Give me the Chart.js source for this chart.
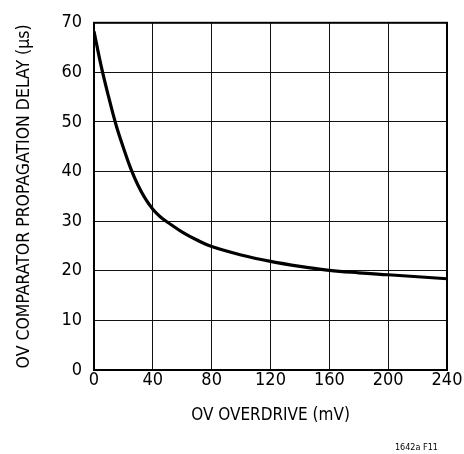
<!DOCTYPE html>
<html>
<head>
<meta charset="utf-8">
<script src="https://cdn.jsdelivr.net/npm/chart.js@4/dist/chart.umd.min.js"></script>
<style>
  html, body { margin: 0; padding: 0; background: #fff; }
  #wrap { width: 464px; height: 454px; }
</style>
</head>
<body>
<div id="wrap"><canvas id="c" width="464" height="454"></canvas></div>
<script>
// Data
const overdrive = [0, 5, 10, 15, 20, 25, 30, 35, 40, 45, 50, 60, 70, 80, 100, 120, 140, 160, 180, 200, 220, 240];
const delay = [68.3, 61.1, 55.0, 49.4, 44.8, 40.6, 37.2, 34.5, 32.4, 30.9, 29.8, 27.8, 26.2, 24.9, 23.2, 21.9, 20.9, 20.1, 19.6, 19.2, 18.8, 18.4];
const xTicks = [0, 40, 80, 120, 160, 200, 240];
const yTicks = [0, 10, 20, 30, 40, 50, 60, 70];
const xTitle = 'OV OVERDRIVE (mV)';
const yTitle = 'OV COMPARATOR PROPAGATION DELAY (µs)';
const footnote = '1642a F11';

const FONT = '"Liberation Sans Narrow", "DejaVu Sans Condensed", "Liberation Sans", sans-serif';

const framePlugin = {
  id: 'frame',
  afterDraw(chart) {
    const {ctx, chartArea: a} = chart;
    ctx.save();
    ctx.strokeStyle = '#000';
    ctx.lineWidth = 2;
    ctx.strokeRect(a.left, a.top, a.right - a.left, a.bottom - a.top);
    ctx.font = '9px ' + FONT;
    ctx.fillStyle = '#000';
    ctx.textAlign = 'right';
    ctx.textBaseline = 'alphabetic';
    ctx.fillText(footnote, 438, 450);
    ctx.restore();
  }
};

new Chart(document.getElementById('c'), {
  type: 'line',
  data: {
    datasets: [{
      data: overdrive.map((x, i) => ({x, y: delay[i]})),
      borderColor: '#000',
      borderWidth: 3.2,
      pointRadius: 0,
      fill: false,
      tension: 0.4
    }]
  },
  options: {
    responsive: false,
    animation: false,
    devicePixelRatio: 1,
    layout: { padding: { top: 18, right: 17, left: 0, bottom: 0 } },
    plugins: { legend: { display: false }, tooltip: { enabled: false } },
    scales: {
      x: {
        type: 'linear',
        min: 0, max: 240,
        afterBuildTicks: s => { s.ticks = xTicks.map(v => ({value: v})); },
        afterFit: s => { s.height = 84; },
        ticks: { color: '#000', font: { family: FONT, size: 18 }, padding: 0, maxRotation: 0 },
        grid: { color: '#111', lineWidth: 1, drawTicks: false },
        border: { color: '#000', width: 2 },
        title: { display: true, text: xTitle, color: '#000', font: { family: FONT, size: 17 }, padding: { top: 0, bottom: 28 } }
      },
      y: {
        type: 'linear',
        min: 0, max: 70,
        afterBuildTicks: s => { s.ticks = yTicks.map(v => ({value: v})); },
        afterFit: s => { s.width = 94; },
        ticks: { color: '#000', font: { family: FONT, size: 18 }, padding: 12 },
        grid: { color: '#111', lineWidth: 1, drawTicks: false },
        border: { color: '#000', width: 2 },
        title: { display: true, text: yTitle, color: '#000', font: { family: FONT, size: 17.5 }, padding: { top: 14, bottom: 0 } }
      }
    }
  },
  plugins: [framePlugin]
});
</script>
</body>
</html>
